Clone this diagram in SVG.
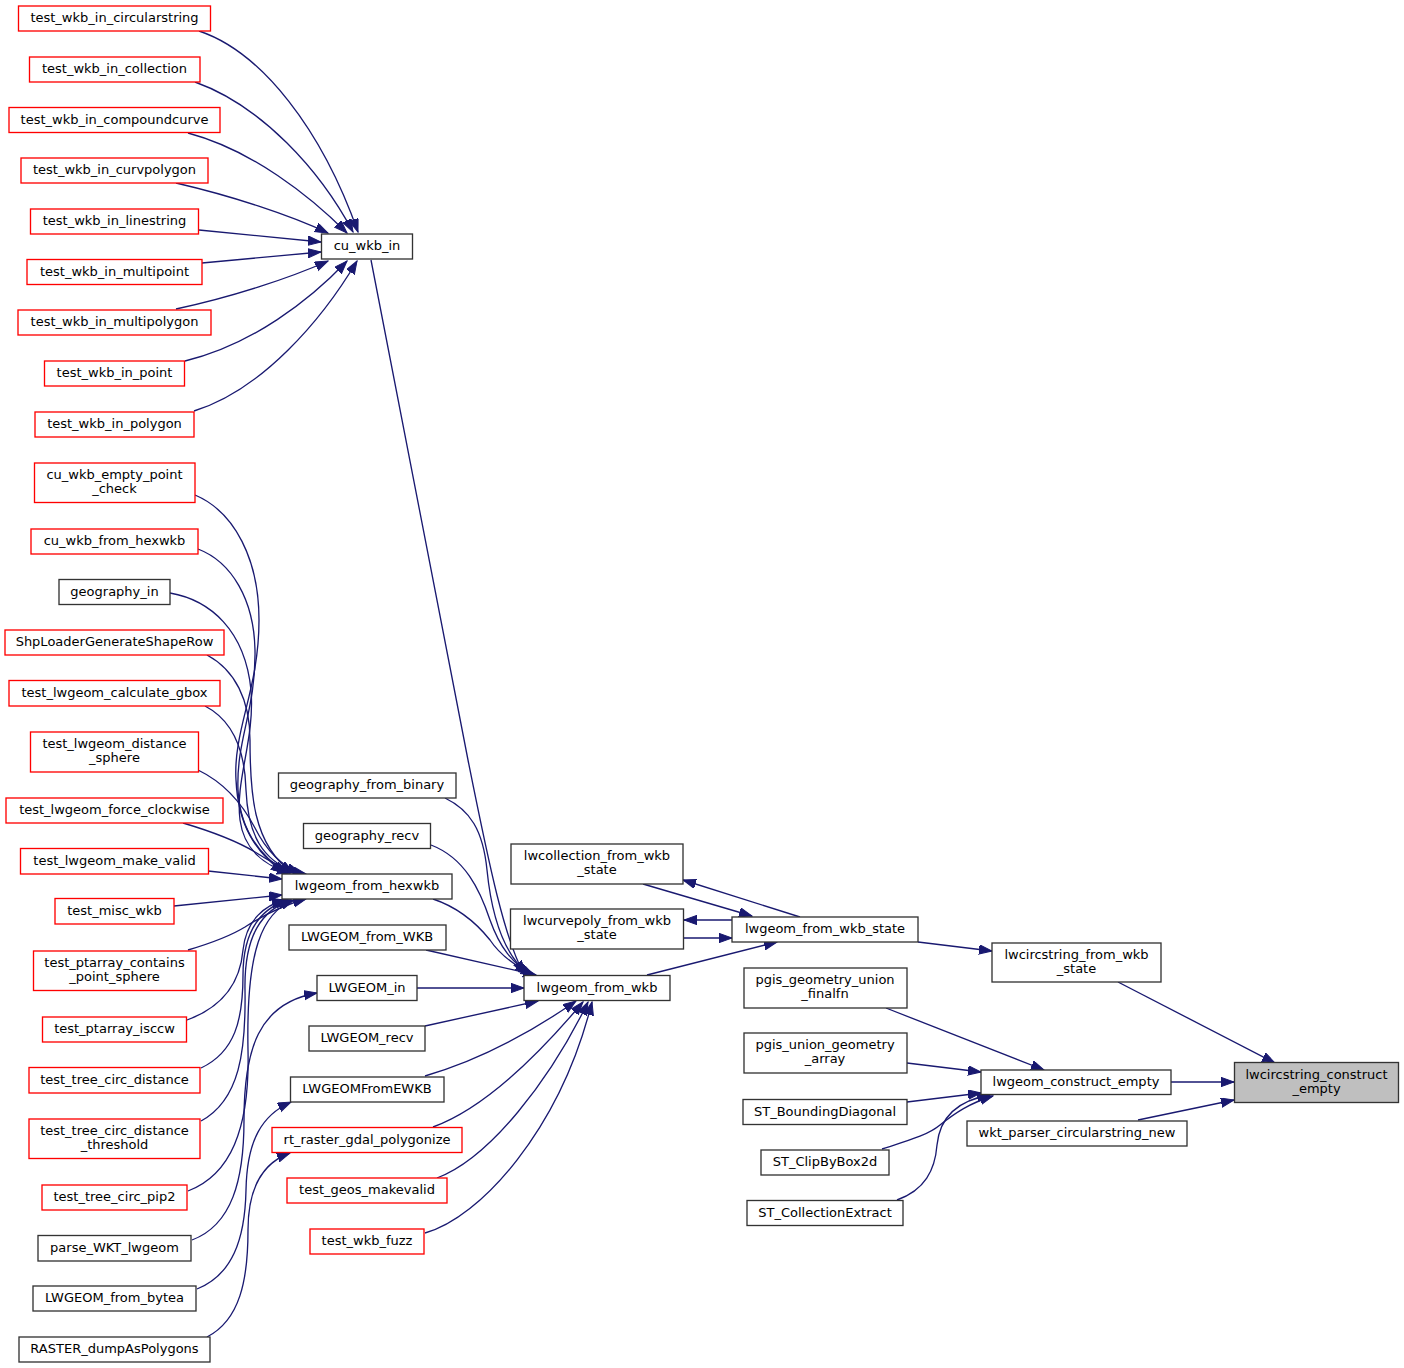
<svg xmlns="http://www.w3.org/2000/svg" width="1404" height="1368" viewBox="0 0 1404 1368">
<style>
.bg{fill:#ffffff}
.n rect{fill:#ffffff;stroke:#333333;stroke-width:1.33}
.r rect{fill:#ffffff;stroke:#ff0000;stroke-width:1.33}
.root rect{fill:#bfbfbf;stroke:#333333;stroke-width:1.33}
text{font-family:"DejaVu Sans","Liberation Sans",sans-serif;font-size:13px;fill:#000000;text-anchor:middle}
.e path{fill:none;stroke:#191970;stroke-width:1.33;marker-end:url(#ah)}
</style>
<defs>
<marker id="ah" markerUnits="userSpaceOnUse" markerWidth="14" markerHeight="11" refX="13" refY="4.67" orient="auto">
<path d="M0,0 L13,4.67 L0,9.33 z" fill="#191970" stroke="#191970" stroke-width="1"/>
</marker>
</defs>
<rect class="bg" x="0" y="0" width="1404" height="1368"/>

<g id="edges" class="e">
<path d="M199,31 C262,52 322,130 358,232"/>
<path d="M195,82 C262,106 320,170 353,232"/>
<path d="M188,133 C252,150 310,196 347,233"/>
<path d="M176,183 C232,196 290,215 328,233"/>
<path d="M199,230 L321,242"/>
<path d="M202,263 L321,252"/>
<path d="M176,309 C232,297 290,278 328,261"/>
<path d="M185,361 C252,345 310,300 347,261"/>
<path d="M194,411 C262,390 322,320 357,261"/>
<path d="M371,260 L468,760 C490,870 505,940 524,974"/>

<path d="M195,495 C235,512 259,560 259,620 C259,690 233,730 236,780 C238,825 255,852 284,873"/>
<path d="M198,549 C232,562 254,600 255,650 C256,710 236,740 238,790 C240,830 260,856 287,873"/>
<path d="M170,593 C210,600 245,630 251,690 C255,740 235,780 240,820 C244,850 265,866 290,873"/>
<path d="M207,655 C235,670 250,700 250,740 C250,790 252,845 293,873"/>
<path d="M205,706 C232,720 245,750 246,790 C248,835 262,860 296,873"/>
<path d="M198,770 C225,783 243,805 255,828 C265,848 280,865 300,873"/>
<path d="M183,823 C210,831 235,840 255,852 C270,862 285,870 306,874"/>
<path d="M208,871 L282,879"/>
<path d="M174,906 L282,895"/>
<path d="M188,950 C215,942 232,935 245,927 C262,916 280,906 306,899"/>
<path d="M187,1020 C220,1008 240,985 243,950 C246,920 265,905 285,900"/>
<path d="M201,1068 C235,1052 243,1020 243,975 C243,930 262,908 288,900"/>
<path d="M201,1121 C240,1100 246,1050 245,990 C244,935 262,910 291,900"/>
<path d="M188,1191 C230,1175 250,1130 248,1050 C246,950 262,912 294,900"/>
<path d="M192,1240 C232,1225 244,1180 244,1120 C244,1050 258,1003 317,993"/>
<path d="M197,1289 C232,1275 245,1240 246,1190 C247,1140 262,1115 291,1102"/>
<path d="M207,1337 C240,1320 248,1280 248,1230 C248,1185 265,1162 290,1153"/>

<path d="M445,798 C470,810 483,830 487,870 C492,920 505,955 528,974"/>
<path d="M431,845 C465,858 480,890 490,920 C500,948 512,962 531,975"/>
<path d="M433,899 C460,908 478,925 490,940 C500,955 515,966 534,975"/>
<path d="M426,950 L536,975"/>
<path d="M417,988 L524,988"/>
<path d="M425,1026 L538,1001"/>
<path d="M425,1076 C470,1063 520,1040 576,1001"/>
<path d="M433,1127 C480,1110 530,1065 583,1002"/>
<path d="M437,1178 C490,1158 550,1080 588,1002"/>
<path d="M425,1233 C480,1218 560,1130 592,1002"/>

<path d="M647,975 L777,942"/>
<path d="M800,917 L683,880"/>
<path d="M643,884 L752,916"/>
<path d="M732,920 L684,920"/>
<path d="M684,938 L732,938"/>
<path d="M918,942 L992,951"/>
<path d="M1118,982 L1275,1063"/>
<path d="M886,1008 L1044,1070"/>
<path d="M907,1063 L981,1072"/>
<path d="M907,1102 L981,1093"/>
<path d="M882,1149 C910,1140 928,1135 940,1125 C955,1113 970,1103 993,1096"/>
<path d="M897,1200 C925,1190 935,1170 937,1145 C940,1115 960,1100 990,1095"/>
<path d="M1171,1082 L1234,1082"/>
<path d="M1138,1120 L1234,1100"/>
</g>

<g id="n1" class="r"><rect x="18.5" y="6" width="192" height="25"/><text x="114.5" y="22">test_wkb_in_circularstring</text></g>
<g id="n2" class="r"><rect x="29.5" y="57" width="170.5" height="25"/><text x="114.5" y="73">test_wkb_in_collection</text></g>
<g id="n3" class="r"><rect x="9" y="107.5" width="211" height="25"/><text x="114.5" y="123.5">test_wkb_in_compoundcurve</text></g>
<g id="n4" class="r"><rect x="21" y="158" width="187" height="25"/><text x="114.5" y="174">test_wkb_in_curvpolygon</text></g>
<g id="n5" class="r"><rect x="30.5" y="209" width="168" height="25"/><text x="114.5" y="225">test_wkb_in_linestring</text></g>
<g id="n6" class="r"><rect x="27" y="259.5" width="175" height="25"/><text x="114.5" y="275.5">test_wkb_in_multipoint</text></g>
<g id="n7" class="r"><rect x="18" y="310" width="193" height="25"/><text x="114.5" y="326">test_wkb_in_multipolygon</text></g>
<g id="n8" class="r"><rect x="44.5" y="361" width="140" height="25"/><text x="114.5" y="377">test_wkb_in_point</text></g>
<g id="n9" class="r"><rect x="35" y="412" width="159" height="25"/><text x="114.5" y="428">test_wkb_in_polygon</text></g>
<g id="n10" class="n"><rect x="321.5" y="234" width="91" height="25"/><text x="367" y="250">cu_wkb_in</text></g>

<g id="n11" class="r"><rect x="34.5" y="463" width="160.5" height="39.5"/><text x="114.5" y="479">cu_wkb_empty_point</text><text x="114.5" y="493">_check</text></g>
<g id="n12" class="r"><rect x="31" y="529" width="167" height="25"/><text x="114.5" y="545">cu_wkb_from_hexwkb</text></g>
<g id="n13" class="n"><rect x="59" y="579.5" width="111" height="25"/><text x="114.5" y="595.5">geography_in</text></g>
<g id="n14" class="r"><rect x="5" y="630" width="219" height="25"/><text x="114.5" y="646">ShpLoaderGenerateShapeRow</text></g>
<g id="n15" class="r"><rect x="9" y="680.5" width="211" height="25.5"/><text x="114.5" y="696.5">test_lwgeom_calculate_gbox</text></g>
<g id="n16" class="r"><rect x="30.5" y="732" width="168" height="40"/><text x="114.5" y="748">test_lwgeom_distance</text><text x="114.5" y="762">_sphere</text></g>
<g id="n17" class="r"><rect x="6" y="798" width="217" height="25"/><text x="114.5" y="814">test_lwgeom_force_clockwise</text></g>
<g id="n18" class="r"><rect x="20.5" y="848.5" width="188" height="25.5"/><text x="114.5" y="864.5">test_lwgeom_make_valid</text></g>
<g id="n19" class="r"><rect x="55" y="898.5" width="119" height="25.5"/><text x="114.5" y="914.5">test_misc_wkb</text></g>
<g id="n20" class="r"><rect x="33.5" y="951" width="162.5" height="39.5"/><text x="114.5" y="967">test_ptarray_contains</text><text x="114.5" y="981">_point_sphere</text></g>
<g id="n21" class="r"><rect x="42.5" y="1017" width="144" height="25"/><text x="114.5" y="1033">test_ptarray_isccw</text></g>
<g id="n22" class="r"><rect x="29" y="1067.5" width="171" height="25.5"/><text x="114.5" y="1083.5">test_tree_circ_distance</text></g>
<g id="n23" class="r"><rect x="29" y="1119" width="171" height="39.5"/><text x="114.5" y="1135">test_tree_circ_distance</text><text x="114.5" y="1149">_threshold</text></g>
<g id="n24" class="r"><rect x="42" y="1185" width="145" height="25"/><text x="114.5" y="1201">test_tree_circ_pip2</text></g>
<g id="n25" class="n"><rect x="38" y="1235.5" width="153" height="25.5"/><text x="114.5" y="1251.5">parse_WKT_lwgeom</text></g>
<g id="n26" class="n"><rect x="33" y="1286" width="163" height="25"/><text x="114.5" y="1302">LWGEOM_from_bytea</text></g>
<g id="n27" class="n"><rect x="19" y="1337" width="191" height="25"/><text x="114.5" y="1353">RASTER_dumpAsPolygons</text></g>

<g id="n28" class="n"><rect x="278.5" y="773" width="177.5" height="25"/><text x="367" y="789">geography_from_binary</text></g>
<g id="n29" class="n"><rect x="303.5" y="823.5" width="127" height="25"/><text x="367" y="839.5">geography_recv</text></g>
<g id="n30" class="n"><rect x="282" y="874" width="170" height="25"/><text x="367" y="890">lwgeom_from_hexwkb</text></g>
<g id="n31" class="n"><rect x="289" y="925" width="157" height="25"/><text x="367" y="941">LWGEOM_from_WKB</text></g>
<g id="n32" class="n"><rect x="317" y="975.5" width="100" height="25"/><text x="367" y="991.5">LWGEOM_in</text></g>
<g id="n33" class="n"><rect x="309" y="1026" width="116" height="25"/><text x="367" y="1042">LWGEOM_recv</text></g>
<g id="n34" class="n"><rect x="290.5" y="1077" width="153.5" height="25"/><text x="367" y="1093">LWGEOMFromEWKB</text></g>
<g id="n35" class="r"><rect x="272" y="1127.5" width="190" height="25"/><text x="367" y="1143.5">rt_raster_gdal_polygonize</text></g>
<g id="n36" class="r"><rect x="287" y="1178" width="160" height="25"/><text x="367" y="1194">test_geos_makevalid</text></g>
<g id="n37" class="r"><rect x="310" y="1229" width="114" height="25"/><text x="367" y="1245">test_wkb_fuzz</text></g>

<g id="n38" class="n"><rect x="524" y="975.5" width="146" height="25"/><text x="597" y="991.5">lwgeom_from_wkb</text></g>
<g id="n39" class="n"><rect x="511" y="844" width="172" height="40"/><text x="597" y="860">lwcollection_from_wkb</text><text x="597" y="874">_state</text></g>
<g id="n40" class="n"><rect x="510.5" y="909" width="173" height="40"/><text x="597" y="925">lwcurvepoly_from_wkb</text><text x="597" y="939">_state</text></g>
<g id="n41" class="n"><rect x="732" y="917" width="186" height="25"/><text x="825" y="933">lwgeom_from_wkb_state</text></g>
<g id="n42" class="n"><rect x="744" y="968" width="163" height="40"/><text x="825" y="984">pgis_geometry_union</text><text x="825" y="998">_finalfn</text></g>
<g id="n43" class="n"><rect x="744" y="1033" width="163" height="40"/><text x="825" y="1049">pgis_union_geometry</text><text x="825" y="1063">_array</text></g>
<g id="n44" class="n"><rect x="743" y="1099.5" width="164" height="25"/><text x="825" y="1115.5">ST_BoundingDiagonal</text></g>
<g id="n45" class="n"><rect x="761" y="1150" width="128" height="25"/><text x="825" y="1166">ST_ClipByBox2d</text></g>
<g id="n46" class="n"><rect x="747" y="1200.5" width="156" height="25"/><text x="825" y="1216.5">ST_CollectionExtract</text></g>

<g id="n47" class="n"><rect x="992" y="943" width="169" height="39"/><text x="1076.5" y="959">lwcircstring_from_wkb</text><text x="1076.5" y="973">_state</text></g>
<g id="n48" class="n"><rect x="981" y="1070" width="190" height="24.5"/><text x="1076" y="1086">lwgeom_construct_empty</text></g>
<g id="n49" class="n"><rect x="967" y="1121" width="220" height="25"/><text x="1077" y="1137">wkt_parser_circularstring_new</text></g>
<g id="n50" class="root"><rect x="1234.5" y="1062.5" width="164" height="40"/><text x="1316.5" y="1078.5">lwcircstring_construct</text><text x="1316.5" y="1092.5">_empty</text></g>
</svg>
